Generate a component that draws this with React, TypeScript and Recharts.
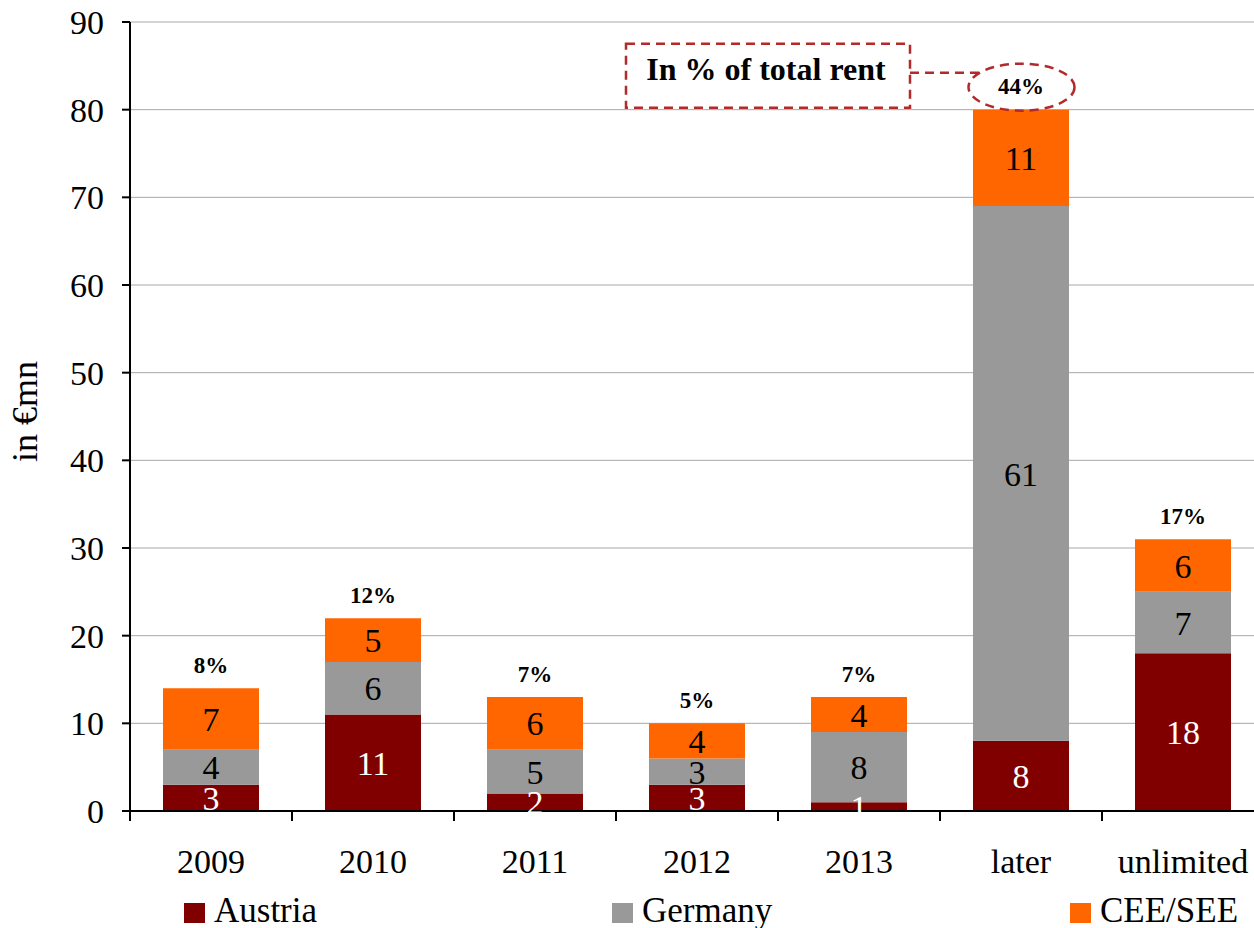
import React from 'react';
import {
  BarChart,
  Bar,
  XAxis,
  YAxis,
  CartesianGrid,
  LabelList,
} from 'recharts';

// Lease expiry profile by region, in € million
const categories = ['2009', '2010', '2011', '2012', '2013', 'later', 'unlimited'];
const austria = [3, 11, 2, 3, 1, 8, 18];
const germany = [4, 6, 5, 3, 8, 61, 7];
const ceeSee = [7, 5, 6, 4, 4, 11, 6];
// Share of total rent (%) shown above each stack
const shareOfTotalRent = [8, 12, 7, 5, 7, 44, 17];
const yTicks = [0, 10, 20, 30, 40, 50, 60, 70, 80, 90];

const highlightedCategory = 'later';
const noteText = 'In % of total rent';
const axisTitle = 'in €mn';

const seriesInfo = [
  { key: 'austria', name: 'Austria', color: '#800000', labelColor: '#ffffff' },
  { key: 'germany', name: 'Germany', color: '#999999', labelColor: '#000000' },
  { key: 'ceeSee', name: 'CEE/SEE', color: '#ff6600', labelColor: '#000000' },
];

const data = categories.map((category, i) => ({
  category,
  austria: austria[i],
  germany: germany[i],
  ceeSee: ceeSee[i],
  share: shareOfTotalRent[i],
}));

const FONT = '"Liberation Serif", "Times New Roman", serif';
const NOTE_COLOR = '#b22a2a';

// x-axis tick: category name plus a tick mark at the left edge of its band
const CategoryTick = (props: any) => {
  const { x, y, payload, width, visibleTicksCount } = props;
  const band = width / visibleTicksCount;
  const left = x - band / 2;
  return (
    <g>
      <line x1={left} y1={y} x2={left} y2={y + 10} stroke="#000" strokeWidth={2} />
      <text
        x={x}
        y={y + 62}
        textAnchor="middle"
        fontFamily={FONT}
        fontSize={34}
        fill="#000"
      >
        {payload.value}
      </text>
    </g>
  );
};

// Percentage above each stack; the highlighted category also gets the callout
const ShareLabel = (props: any) => {
  const { x, y, width, value, index } = props;
  const cx = x + width / 2;
  const highlighted = categories[index] === highlightedCategory;
  return (
    <g>
      {highlighted && (
        <g fill="none" stroke={NOTE_COLOR} strokeWidth={2.5} strokeDasharray="9 6">
          <ellipse cx={cx + 0.5} cy={y - 22.5} rx={53} ry={23.5} />
          <rect x={cx - 395} y={y - 66} width={284} height={64} />
          <line x1={cx - 111} y1={y - 37} x2={cx - 42} y2={y - 37} />
        </g>
      )}
      {highlighted && (
        <text
          x={cx - 255}
          y={y - 30}
          textAnchor="middle"
          fontFamily={FONT}
          fontWeight="bold"
          fontSize={32}
          fill="#000"
        >
          {noteText}
        </text>
      )}
      <text
        x={cx}
        y={y - 15.5}
        textAnchor="middle"
        fontFamily={FONT}
        fontWeight="bold"
        fontSize={23}
        fill="#000"
      >
        {`${value}%`}
      </text>
    </g>
  );
};

const AxisTitle = (props: any) => {
  const { viewBox } = props;
  const cx = viewBox.x + 25;
  const cy = viewBox.y + viewBox.height / 2 - 5;
  return (
    <text
      x={cx}
      y={cy}
      transform={`rotate(-90, ${cx}, ${cy})`}
      textAnchor="middle"
      dominantBaseline="central"
      fontFamily={FONT}
      fontSize={36}
      fill="#000"
    >
      {axisTitle}
    </text>
  );
};

const legendX = [184, 612, 1070];

export default function App() {
  return (
    <div
      style={{
        position: 'absolute',
        left: 0,
        top: 0,
        width: 1254,
        height: 928,
        overflow: 'hidden',
        background: '#fff',
      }}
    >
      <BarChart
        width={1264}
        height={928}
        data={data}
        margin={{ top: 22, right: 0, bottom: 0, left: 0 }}
        barSize={96}
      >
        <CartesianGrid horizontal vertical={false} stroke="#a8a8a8" strokeWidth={1} />
        <XAxis
          dataKey="category"
          height={117}
          axisLine={{ stroke: '#000', strokeWidth: 2 }}
          tickLine={false}
          tickSize={0}
          tickMargin={0}
          interval={0}
          tick={<CategoryTick />}
        />
        <YAxis
          width={130}
          domain={[0, 90]}
          ticks={yTicks}
          interval={0}
          axisLine={{ stroke: '#000', strokeWidth: 2 }}
          tickLine={{ stroke: '#000', strokeWidth: 2 }}
          tickSize={8}
          tickMargin={18}
          tick={{ fontSize: 34, fill: '#000', fontFamily: FONT }}
          label={<AxisTitle />}
        />
        {seriesInfo.map((s) => (
          <Bar
            key={s.key}
            dataKey={s.key}
            name={s.name}
            stackId="total"
            fill={s.color}
            isAnimationActive={false}
          >
            <LabelList
              dataKey={s.key}
              position="center"
              fill={s.labelColor}
              fontSize={34}
              fontFamily={FONT}
            />
            {s.key === 'ceeSee' && <LabelList dataKey="share" content={<ShareLabel />} />}
          </Bar>
        ))}
      </BarChart>
      <svg
        width={1254}
        height={40}
        style={{ position: 'absolute', left: 0, top: 888 }}
      >
        {seriesInfo.map((s, i) => (
          <g key={s.key}>
            <rect x={legendX[i]} y={15} width={21} height={20} fill={s.color} />
            <text
              x={legendX[i] + 30}
              y={34}
              fontFamily={FONT}
              fontSize={35}
              fill="#000"
            >
              {s.name}
            </text>
          </g>
        ))}
      </svg>
    </div>
  );
}
